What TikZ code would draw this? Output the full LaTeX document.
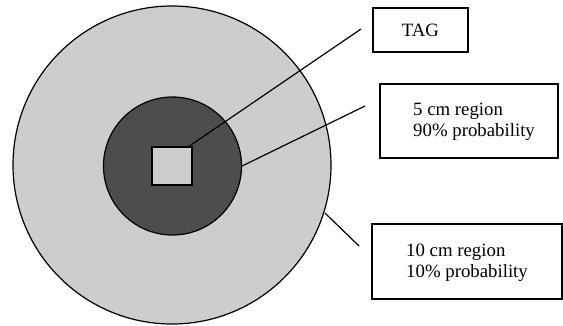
\documentclass[tikz,border=0pt]{standalone}
\usepackage{fontspec}
\setmainfont{Liberation Serif}
\definecolor{lightg}{HTML}{CDCDCD}
\definecolor{darkg}{HTML}{4D4D4D}
\begin{document}
\begin{tikzpicture}[x=1pt,y=-1pt,
  ring/.style={circle,draw=black,line width=1.2pt,inner sep=0pt},
  labelbox/.style={draw=black,line width=1.3pt,fill=white},
  labeltext/.style={anchor=base west,inner sep=0pt,font=\fontsize{18.8}{21}\selectfont},
  leader/.style={draw=black,line width=1.2pt}]
\useasboundingbox (0,0) rectangle (563,325);
% circles
\node[ring,fill=lightg,minimum size=318pt] (outer) at (172,165) {};
\node[ring,fill=darkg,minimum size=138pt] (inner) at (172.5,166) {};
\node[draw=black,line width=1.3pt,fill=lightg,minimum width=40pt,minimum height=38pt,inner sep=0pt] (tag) at (172,166) {};
% boxes
\node[labelbox,minimum width=95pt,minimum height=44pt,inner sep=0pt,
  font=\fontsize{18.8}{21}\selectfont] (tagbox) at (420.5,30) {TAG};
\node[labelbox,minimum width=178pt,minimum height=74pt,inner sep=0pt] (box5) at (469,121) {};
\node[labeltext] (t5a) at (413,115) {5 cm region};
\node[labeltext] (t5b) at (413,136) {90\% probability};
\node[labelbox,minimum width=190pt,minimum height=75pt,inner sep=0pt] (box10) at (467,261.5) {};
\node[labeltext] (t10a) at (406,256) {10 cm region};
\node[labeltext] (t10b) at (406,277) {10\% probability};
% leader ends
\coordinate (a1) at (188,147);
\coordinate (a2) at (361,29);
\coordinate (b1) at (inner.east);
\coordinate (b2) at (365,106);
\coordinate (c1) at (325,213);
\coordinate (c2) at (359,246);
\draw[leader] (a1) -- (a2);
\draw[leader] (b1) -- (b2);
\draw[leader] (c1) -- (c2);
\end{tikzpicture}
\end{document}
